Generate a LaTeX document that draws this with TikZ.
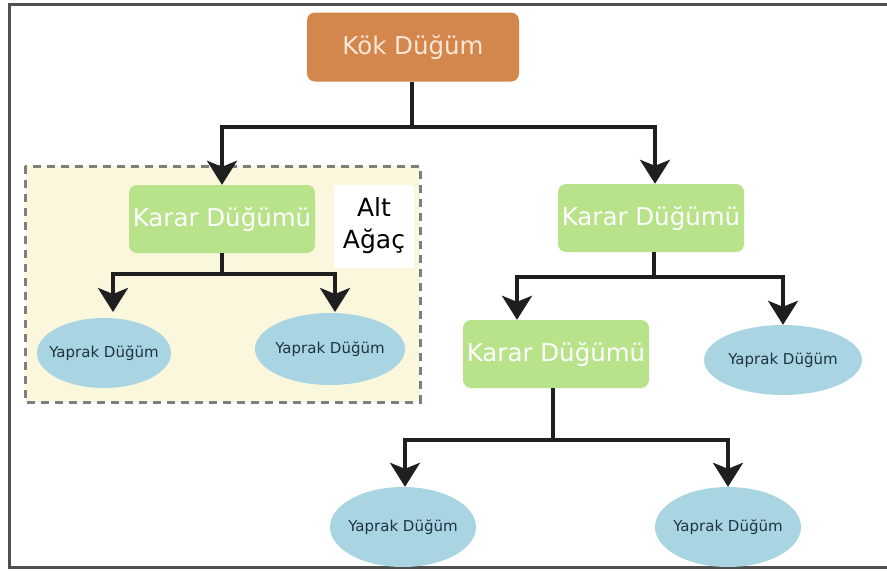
\documentclass[tikz,border=0pt]{standalone}
\usepackage{fontspec}
\setmainfont{DejaVu Sans}
\usetikzlibrary{arrows.meta,shapes.geometric}
\definecolor{rootfill}{HTML}{D4874C}
\definecolor{roottext}{HTML}{FCE8D6}
\definecolor{decfill}{HTML}{B8E38A}
\definecolor{leaffill}{HTML}{A9D4E2}
\definecolor{leaftext}{HTML}{1E3440}
\definecolor{subfill}{HTML}{FAF7DC}
\definecolor{framegray}{HTML}{505050}
\definecolor{dashgray}{HTML}{7E7E7C}
\tikzset{
  rootbox/.style={rectangle, rounded corners=8pt, fill=rootfill, text=roottext,
    minimum width=212pt, minimum height=69pt, font=\fontsize{24.5}{28}\selectfont},
  decbox/.style={rectangle, rounded corners=8pt, fill=decfill, text=white,
    minimum width=186pt, minimum height=68pt, inner sep=2pt, font=\fontsize{24.5}{28}\selectfont},
  leaf/.style={ellipse, fill=leaffill, text=leaftext, inner xsep=-14pt, inner ysep=0pt,
    font=\fontsize{15}{18}\selectfont},
  link/.style={draw=black!88, line width=3.5pt},
  arr/.style={link, -{Stealth[width=30pt,length=24pt,inset=6pt]}},
}
\begin{document}
\begin{tikzpicture}[x=1pt,y=-1pt]
\useasboundingbox (0,0) rectangle (887,571);
% outer frame (open on the right)
\draw[framegray, line width=3pt] (887,4) -- (9,4) -- (9,567) -- (887,567);

% subtree region
\draw[dashgray, fill=subfill, line width=3pt, dash pattern=on 8pt off 6pt]
  (25,166) rectangle (420,402);
\node[fill=white, minimum width=80pt, minimum height=83pt, align=center,
  font=\fontsize{25}{32}\selectfont] (alt) at (374,226) {Alt\\Ağaç};

% nodes
\node[rootbox] (root) at (413,47) {Kök Düğüm};
\node[decbox] (k1) at (222,219) {Karar Düğümü};
\node[decbox] (k2) at (651,218) {Karar Düğümü};
\node[decbox] (k3) at (556,354) {Karar Düğümü};
\node[leaf, minimum width=134pt, minimum height=70pt] (l1) at (104,353) {Yaprak Düğüm};
\node[leaf, minimum width=150pt, minimum height=72pt] (l2) at (330,349) {Yaprak Düğüm};
\node[leaf, minimum width=158pt, minimum height=70pt] (l3) at (783,360) {Yaprak Düğüm};
\node[leaf, minimum width=146pt, minimum height=80pt] (l4) at (403,527) {Yaprak Düğüm};
\node[leaf, minimum width=146pt, minimum height=80pt] (l5) at (728,527) {Yaprak Düğüm};

% junctions
\coordinate (j0) at (412,127);
\coordinate (j1) at (222,274);
\coordinate (j2) at (654,277);
\coordinate (j3) at (553,440);

% connectors
\draw[link] (root.south -| j0) -- (j0);
\draw[arr] (j0) -| (k1.north);
\draw[arr] (j0) -| (k2.north -| 655,0);

\draw[link] (k1.south) -- (j1);
\draw[arr] (j1) -| (113,312);
\draw[arr] (j1) -| (335,312);

\draw[link] (k2.south -| j2) -- (j2);
\draw[arr] (j2) -| (k3.north -| 517,0);
\draw[arr] (j2) -| (l3.north -| 783,0);

\draw[link] (k3.south -| j3) -- (j3);
\draw[arr] (j3) -| (l4.north -| 405,0);
\draw[arr] (j3) -| (l5.north);
\end{tikzpicture}
\end{document}
